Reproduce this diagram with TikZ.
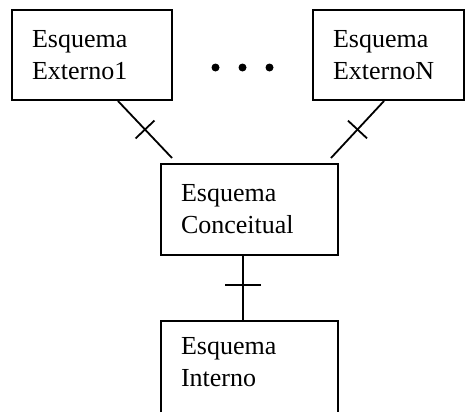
\documentclass[tikz,border=0pt]{standalone}
\usepackage{fontspec}
\setmainfont{Liberation Serif}
\usetikzlibrary{calc}
\tikzset{
  box/.style={draw, line width=1.8pt, inner xsep=20pt, inner ysep=0pt, align=left,
    minimum height=90pt, font=\fontsize{26}{32}\selectfont},
  conn/.style={line width=1.8pt},
  dotn/.style={circle, fill=black, inner sep=0pt, minimum size=8pt}
}
\begin{document}
\begin{tikzpicture}[x=1pt,y=-1pt]
\useasboundingbox (0,0) rectangle (465,412);
% boxes
\node[box, text width=120pt] (e1) at (92,55) {Esquema\\Externo1};
\node[box, text width=111pt] (en) at (388.5,55) {Esquema\\ExternoN};
\node[box, text width=137pt, minimum height=91pt] (ec) at (249.5,209.5) {Esquema\\Conceitual};
\node[box, draw=none, text width=137pt, minimum height=0pt] (ei) at (249.5,362.5) {Esquema\\Interno};
\coordinate (i1) at (161,412);
\coordinate (i2) at (161,321);
\coordinate (i3) at (338,321);
\coordinate (i4) at (338,412);
\draw[conn] (i1) -- (i2) -- (i3) -- (i4);
% dots
\node[dotn] (d1) at (215.5,67.5) {};
\node[dotn] (d2) at (242.5,67.5) {};
\node[dotn] (d3) at (269.5,67.5) {};
% connectors
\coordinate (a1) at (118,101);
\coordinate (a2) at (172,158);
\coordinate (b1) at (384,101);
\coordinate (b2) at (331,158);
\coordinate (c1) at (243,255);
\coordinate (c2) at (243,321);
\draw[conn] (a1) -- (a2);
\draw[conn] ($(a1)!0.5!(a2)!13pt!90:(a2)$) -- ($(a1)!0.5!(a2)!13pt!-90:(a2)$);
\draw[conn] (b1) -- (b2);
\draw[conn] ($(b1)!0.5!(b2)!13pt!90:(b2)$) -- ($(b1)!0.5!(b2)!13pt!-90:(b2)$);
\draw[conn] (c1) -- (c2);
\draw[conn] ($(c1)!0.45!(c2)!18pt!90:(c2)$) -- ($(c1)!0.45!(c2)!18pt!-90:(c2)$);
\end{tikzpicture}
\end{document}
